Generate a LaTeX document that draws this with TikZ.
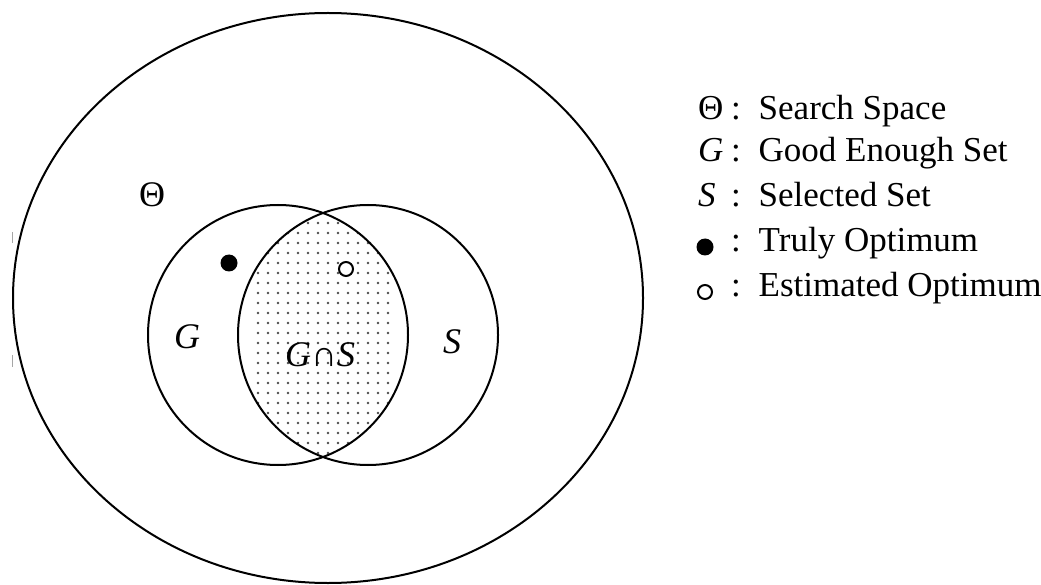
\documentclass[tikz,border=0pt]{standalone}
\usepackage{fontspec}
\setmainfont{Liberation Serif}
\begin{document}
\begin{tikzpicture}[x=1pt,y=-1pt, line width=2pt,
  lbl/.style={inner sep=0pt, font=\fontsize{36}{42}\selectfont},
  leg/.style={inner sep=0pt, anchor=base west, font=\fontsize{35}{42}\selectfont},
  fulldot/.style={circle, fill=black, inner sep=0pt, minimum size=17pt},
  opendot/.style={circle, draw=black, fill=white, line width=2pt, inner sep=0pt, minimum size=14pt},
  speck/.style={fill=black!70}]
\useasboundingbox (0,0) rectangle (1041,585);
\begin{scope}
\clip (0,0) rectangle (1041,585);
% search space
\draw (328,298) ellipse [x radius=315pt, y radius=285pt];
% dotted intersection
\begin{scope}
  \clip (278,335) circle (130pt);
  \clip (368,335) circle (130pt);
  \foreach \i in {0,...,13} {
    \foreach \j in {0,...,27} {
      \fill[speck] (258+\i*10, 203+\j*10) circle (1.3pt);
    }
  }
\end{scope}
\draw (278,335) circle (130pt);
\draw (368,335) circle (130pt);
% scan marks at left
\draw[black!35, line width=1pt] (12,232) -- (12,243);
\draw[black!35, line width=1pt] (12,355) -- (12,367);
% labels
\node[lbl] (theta) at (152,195) {Θ};
\node[lbl] (g) at (187,337) {\itshape G};
\node[lbl] (s) at (452,342) {\itshape S};
\node[lbl] (gs) at (320,355) {{\itshape G}∩{\itshape S}};
\node[fulldot] (truly) at (229,263) {};
\node[opendot] (est) at (346,269) {};
% legend
\node[leg] (l1s) at (697,120) {Θ};
\node[leg] (l1) at (730,120) {:\hspace{18pt}Search Space};
\node[leg] (l2s) at (697,162) {\itshape G};
\node[leg] (l2) at (730,162) {:\hspace{18pt}Good Enough Set};
\node[leg] (l3s) at (697,207) {\itshape S};
\node[leg] (l3) at (730,207) {:\hspace{18pt}Selected Set};
\node[fulldot] (l4s) at (705,247) {};
\node[leg] (l4) at (730,252) {:\hspace{18pt}Truly Optimum};
\node[opendot] (l5s) at (705,292) {};
\node[leg] (l5) at (730,297) {:\hspace{18pt}Estimated Optimum};
\end{scope}
\end{tikzpicture}
\end{document}
